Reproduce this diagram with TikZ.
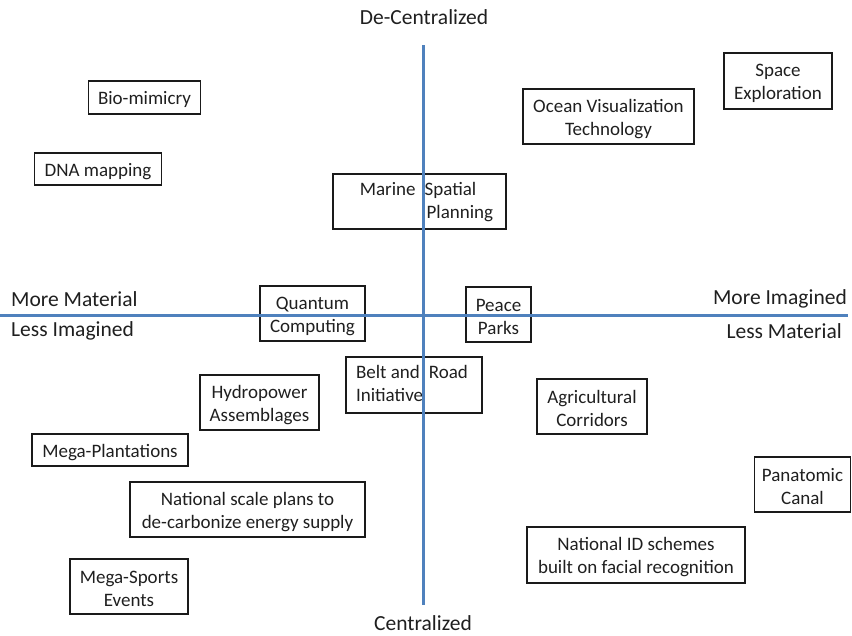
\documentclass[tikz,border=0pt]{standalone}
\usepackage{fontspec}
\setmainfont{Carlito}
\definecolor{axisblue}{HTML}{4F81BD}
\definecolor{boxline}{HTML}{1A1A1A}
\newcommand{\topstrut}{\rule{0pt}{17.5pt}}
\begin{document}
\begin{tikzpicture}[x=1pt,y=-1pt,
  every node/.style={font=\fontsize{19}{23}\selectfont, text=black!88},
  itembox/.style={draw=boxline, line width=1.6pt, inner sep=0pt, align=center, anchor=center},
  axislabel/.style={inner sep=0pt, font=\fontsize{21.5}{25}\selectfont},
  axisline/.style={draw=axisblue, line width=3pt}]
\useasboundingbox (0,0) rectangle (852,635);
% boxes: centre, width, height from pixel corners
\node[itembox, minimum width=112pt, minimum height=33pt] (bio) at (144.5,97.5) {\topstrut Bio-mimicry};
\node[itembox, minimum width=127pt, minimum height=32pt] (dna) at (98,169) {\topstrut DNA mapping};
\node[itembox, minimum width=173pt, minimum height=55pt] (marine) at (419.5,201.5)
  {\hspace{14pt}\begin{tabular}{@{}r@{\hspace{9pt}}l@{}}\topstrut Marine & Spatial\\ & \hspace{2pt}Planning\end{tabular}};
\node[itembox, minimum width=171pt, minimum height=55pt] (ocean) at (608.5,116.5) {\topstrut Ocean Visualization\\Technology};
\node[itembox, minimum width=108pt, minimum height=56pt] (space) at (778,81) {\topstrut Space\\Exploration};
\node[itembox, minimum width=105pt, minimum height=55pt] (quantum) at (312.5,313.5) {\topstrut Quantum\\Computing};
\node[itembox, minimum width=65pt, minimum height=55pt] (peace) at (498.5,314.5) {\topstrut Peace\\Parks};
\node[itembox, minimum width=136pt, minimum height=56pt] (belt) at (414,385)
  {\begin{tabular}{@{}l@{\hspace{9pt}}l@{}}\topstrut Belt and & Road\\ \multicolumn{2}{@{}l@{}}{Initiative}\end{tabular}\hspace{4pt}};
\node[itembox, minimum width=119pt, minimum height=55pt] (hydro) at (259.5,402.5) {\topstrut Hydropower\\Assemblages};
\node[itembox, minimum width=110pt, minimum height=55pt] (agri) at (592,406.5) {\topstrut Agricultural\\Corridors};
\node[itembox, minimum width=156pt, minimum height=32pt] (mega) at (110,450) {\topstrut Mega-Plantations};
\node[itembox, minimum width=96pt, minimum height=55pt] (panatomic) at (802.5,484.5) {\topstrut Panatomic\\Canal};
\node[itembox, minimum width=235pt, minimum height=55pt] (national) at (247.5,509.5) {\topstrut National scale plans to\\de-carbonize energy supply};
\node[itembox, minimum width=218pt, minimum height=56pt] (nid) at (636,555) {\topstrut National ID schemes\\built on facial recognition};
\node[itembox, minimum width=118pt, minimum height=55pt] (sports) at (129,586.5) {\topstrut Mega-Sports\\Events};
% axis labels
\node[axislabel] (decentral) at (424,17) {De-Centralized};
\node[axislabel] (central) at (423,623) {Centralized};
\node[axislabel, anchor=west] (morematerial) at (11,299) {More Material};
\node[axislabel, anchor=west] (lessimagined) at (11,331) {Less Imagined};
\node[axislabel, anchor=east] (moreimagined) at (847,299) {More Imagined};
\node[axislabel, anchor=east] (lessmaterial) at (842,331) {Less Material};
% axes
\coordinate (vtop) at (423,45);
\coordinate (vbot) at (423,605);
\coordinate (hleft) at (0,315);
\coordinate (hright) at (848,315);
\draw[axisline] (hleft) -- (hright);
\draw[axisline] (vtop) -- (vbot);
\end{tikzpicture}
\end{document}
